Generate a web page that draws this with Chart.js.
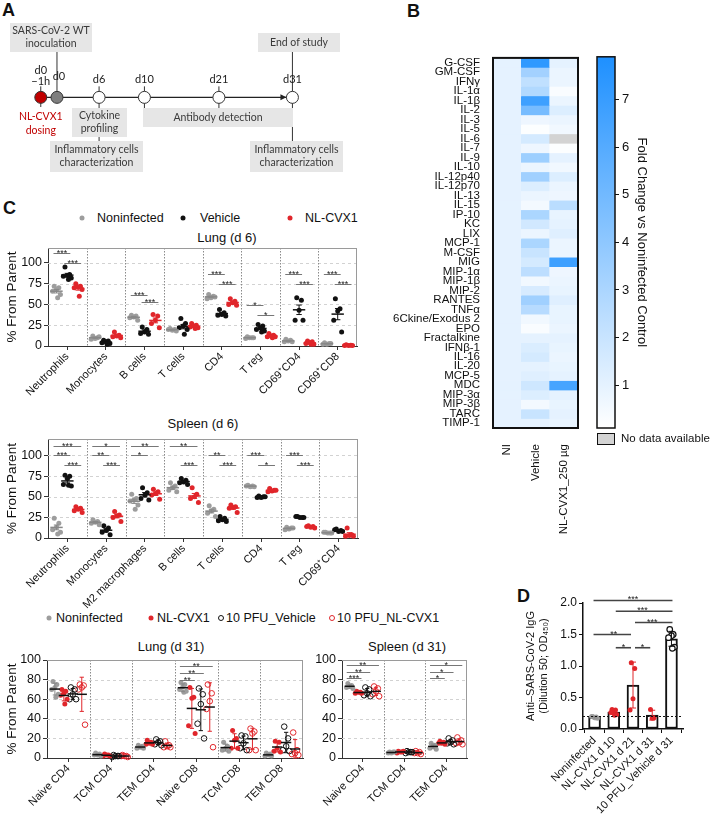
<!DOCTYPE html>
<html>
<head>
<meta charset="utf-8">
<script src="https://cdn.jsdelivr.net/npm/chart.js@4.4.1/dist/chart.umd.min.js"></script>
<style>
  body { margin:0; width:712px; height:814px; position:relative; overflow:hidden; background:#fff;
         font-family:"Liberation Sans", Arial, sans-serif; color:#111; }
  canvas { position:absolute; }
  .t { position:absolute; white-space:nowrap; font-size:13px; transform:translate(-50%,-50%); }
  .lg { position:absolute; white-space:nowrap; font-size:12.5px; transform:translateY(-50%); }
  .letter { position:absolute; font-weight:bold; font-size:18px; }
  .dot { position:absolute; width:5px; height:5px; border-radius:50%; transform:translate(-50%,-50%); box-sizing:border-box; }
</style>
</head>
<body>
<div class="letter" style="left:2px;top:0px">A</div>
<div class="letter" style="left:407px;top:1px">B</div>
<div class="letter" style="left:3px;top:198px">C</div>
<div class="letter" style="left:517px;top:586px">D</div>
<div class="t" style="left:227px;top:237px">Lung (d 6)</div>
<div class="t" style="left:203px;top:423px">Spleen (d 6)</div>
<div class="t" style="left:171px;top:646px">Lung (d 31)</div>
<div class="t" style="left:407px;top:646px">Spleen (d 31)</div>
<script>
// ---------- data ----------
// A: study timeline (schematic positions, not to scale)
const timelineLabels = [["d0", "\u22121h"], ["d0"], ["d6"], ["d10"], ["d21"], ["d31"]];
const timelinePos = [-0.5, 0, 1.3, 2.7, 5, 7.27];

// B: cytokine fold change vs noninfected control
const cytokines = ["G-CSF","GM-CSF","IFN\u03b3","IL-1\u03b1","IL-1\u03b2","IL-2","IL-3","IL-5","IL-6","IL-7","IL-9","IL-10",
  "IL-12p40","IL-12p70","IL-13","IL-15","IP-10","KC","LIX","MCP-1","M-CSF","MIG","MIP-1\u03b1","MIP-1\u03b2","MIP-2",
  "RANTES","TNF\u03b1","6Ckine/Exodus 2","EPO","Fractalkine","IFN\u03b2-1","IL-16","IL-20","MCP-5","MDC","MIP-3\u03b1",
  "MIP-3\u03b2","TARC","TIMP-1"];
const heatCols = ["NI", "Vehicle", "NL-CVX1_250 \u00b5g"];
const foldNI = cytokines.map(() => 1);
const foldVehicle = [7.3,3.3,2.3,2.8,6.8,4.8,0.7,0.2,1.6,0.7,3.5,0.8,3.4,1.3,0.8,0.5,3.0,1.7,0.8,3.0,2.0,1.6,2.4,0.6,1.5,
  3.4,2.6,0.6,0.3,1.0,1.4,1.6,1.0,1.2,1.8,1.3,0.5,2.0,1.0];
const foldNL = [1.0,0.8,0.8,0.3,0.8,1.3,0.8,0.6,null,0.2,1.0,0.6,1.3,0.8,0.7,2.5,0.9,1.0,1.2,0.8,0.8,6.8,0.7,0.8,0.9,
  1.2,0.9,0.9,0.8,1.0,0.9,0.8,0.9,1.0,6.5,1.0,0.9,1.0,0.9];
const cbMin = 0.1, cbMax = 7.9;
const cbTicks = [1, 2, 3, 4, 5, 6, 7];

// C: flow cytometry, % from parent
const d6Groups = ["Noninfected", "Vehicle", "NL-CVX1"];
const lungD6Cats = ["Neutrophils","Monocytes","B cells","T cells","CD4","T reg","CD69\u207aCD4","CD69\u207aCD8"];
const lungD6Noninf = [[72,70,68,66,62,58],[12,10,9,8,11],[37,36,35,34,31],[21,20,19,20,18],[62,60,58,57,59],[11,10,10,9,10],[8,7,6,5,5],[4,3,2,2,3]];
const lungD6Vehicle = [[95,86,85,84,82,80],[7,6,5,4,3,2],[23,20,17,15,14],[33,27,24,22,20,14],[44,40,38,37,36],[26,24,22,20,18,17],[58,55,43,31,31],[57,45,42,31,17]];
const lungD6NL = [[75,72,71,70,68,60],[17,13,12,11,10],[38,36,31,27,22],[27,25,24,23,22,21],[57,54,52,50,49],[15,13,12,11,11,10],[6,5,4,3,2,2],[1.5,1,0.5,0.5,0.5]];
const lungD6Sig = [[0,0,1,112,"***"],[0,1,2,100,"***"],[2,0,1,62,"***"],[2,1,2,53,"***"],[4,0,1,87,"***"],[4,1,2,75,"***"],
  [5,0,1,49,"*"],[5,1,2,37,"*"],[6,0,1,87,"***"],[6,1,2,75,"***"],[7,0,1,87,"***"],[7,1,2,75,"***"]];

const spleenD6Cats = ["Neutrophils","Monocytes","M2 macrophages","B cells","T cells","CD4","T reg","CD69\u207aCD4"];
const spleenD6Noninf = [[24,18,13,10,7,5],[22,20,19,18,16],[53,48,46,45,40,35],[67,63,61,58,56],[39,35,33,30,26],[64,63,62,63,62],[13,12,11,10,12],[7,6,6,7,6]];
const spleenD6Vehicle = [[76,75,72,65,63,64],[15,12,9,7,4],[61,55,52,48,46],[72,70,68,67,65],[26,24,22,21,20],[51,50,49,49,50],[26,25,25,26,25],[11,9,8,10,8]];
const spleenD6NL = [[38,36,35,33,31],[32,28,27,25,20],[59,56,54,52,47],[61,53,50,48,43],[40,38,37,36,31],[60,58,57,56,58],[15,14,13,14,12],[12,4,3,2,2]];
const spleenD6Sig = [[0,0,2,111,"***"],[0,0,1,101,"***"],[0,1,2,89,"***"],[1,0,2,111,"*"],[1,0,1,101,"**"],[1,1,2,89,"***"],
  [2,0,2,111,"**"],[2,0,1,101,"*"],[3,0,2,111,"**"],[3,1,2,89,"***"],[4,0,1,101,"**"],[4,1,2,89,"***"],
  [5,0,1,101,"***"],[5,1,2,89,"*"],[6,0,1,101,"***"],[6,1,2,89,"***"]];

const d31Groups = ["Noninfected", "NL-CVX1", "10 PFU_Vehicle", "10 PFU_NL-CVX1"];
const lungD31Cats = ["Naive CD4","TCM CD4","TEM CD4","Naive CD8","TCM CD8","TEM CD8"];
const lungD31Noninf = [[78,75,72,70,65,62],[5,4,3,3,2],[13,12,11,10,10],[77,75,73,70,68,67],[16,12,10,8,7],[5,4,3,2,2]];
const lungD31NL = [[70,68,66,64,60,55],[4,3,3,2,2],[18,16,15,14,14],[72,62,61,33,25],[28,20,18,10,10],[17,16,10,7,6]];
const lungD31PfuVeh = [[72,70,65,60,60],[3,2,2,1,2],[19,17,16,14,13],[71,65,55,35,20],[23,22,15,10,8],[32,20,12,8,7]];
const lungD31PfuNL = [[75,74,72,70,34],[3,2,2,2,1],[17,13,12,11,11],[75,66,58,50,11],[30,27,25,8,8],[26,8,5,4,3]];
const lungD31Sig = [[3,0,3,94,"**"],[3,0,2,87,"**"],[3,0,1,80,"**"]];

const spleenD31Cats = ["Naive CD4","TCM CD4","TEM CD4"];
const spleenD31Noninf = [[76,74,73,72,71],[6,6,5,5,6],[15,13,12,10,9]];
const spleenD31NL = [[68,67,67,66,66],[7,6,6,5,7],[17,16,15,15,14]];
const spleenD31PfuVeh = [[72,70,66,64,63],[7,6,6,5,6],[20,18,16,15,14]];
const spleenD31PfuNL = [[73,71,68,65,63],[7,6,5,5,4],[21,18,16,15,14]];
const spleenD31Sig = [[0,0,3,95,"**"],[0,0,2,88,"**"],[0,0,1,82,"***"],[2,0,3,95,"*"],[2,0,2,88,"*"],[2,0,1,82,"*"]];

// D: anti-SARS-CoV-2 IgG
const dLabels = ["Noninfected","NL-CVX1 d 10","NL-CVX1 d 21","NL-CVX1 d 31","10 PFU_Vehicle d 31"];
const dPoints = [[0.2,0.19,0.18,0.2,0.17,0.18],[0.31,0.3,0.29,0.26,0.23,0.22],[1.05,0.96,0.48,0.3],[0.31,0.18,0.17],[1.58,1.5,1.48,1.45,1.3,1.28]];
const dThreshold = 0.2;
const dSig = [[0,4,2.04,"***"],[1,4,1.87,"***"],[2,4,1.69,"***"],[0,2,1.5,"**"],[1,2,1.29,"*"],[2,3,1.29,"*"]];

// ---------- helpers ----------
const GRAY = "#9d9d9d", BLACK = "#111111", RED = "#e0262b";
Chart.defaults.font.family = '"Liberation Sans", Arial, sans-serif';
Chart.defaults.color = "#111";
Chart.defaults.animation = false;
Chart.defaults.plugins.legend.display = false;
Chart.defaults.plugins.tooltip.enabled = false;

function mean(a) { return a.reduce((s, v) => s + v, 0) / a.length; }
function sd(a) { const m = mean(a); return Math.sqrt(a.reduce((s, v) => s + (v - m) * (v - m), 0) / (a.length - 1)); }
const jitPattern = [-1, 1, 0, -1.7, 1.7, 0.5, -0.5];

function makeCanvas(left, top, w, h) {
  const c = document.createElement("canvas");
  c.width = w; c.height = h;
  c.style.left = left + "px"; c.style.top = top + "px";
  c.style.width = w + "px"; c.style.height = h + "px";
  document.body.appendChild(c);
  return c.getContext("2d");
}

function hasFont(f) {
  const c = document.createElement("canvas").getContext("2d");
  c.font = "20px monospace";
  const w1 = c.measureText("abcdefgWMil").width;
  c.font = '20px "' + f + '", monospace';
  return c.measureText("abcdefgWMil").width !== w1;
}
const narrowOK = hasFont("Liberation Sans Narrow");
const schemFont = narrowOK ? '12.5px "Liberation Sans Narrow"' : '10.5px Lato';
const dayFont = narrowOK ? '12px "Liberation Sans Narrow"' : '11px Lato';

function addLegend(names, styles, y, dotX, textX) {
  names.forEach((n, i) => {
    const d = document.createElement("div");
    d.className = "dot";
    d.style.left = dotX[i] + "px"; d.style.top = y + "px";
    if (styles[i].open) { d.style.border = "1px solid " + styles[i].color; d.style.width = "6px"; d.style.height = "6px"; }
    else d.style.background = styles[i].color;
    document.body.appendChild(d);
    const t = document.createElement("div");
    t.className = "lg"; t.textContent = n;
    t.style.left = textX[i] + "px"; t.style.top = y + "px";
    document.body.appendChild(t);
  });
}

// ---------- A: timeline ----------
const aDecor = {
  id: "aDecor",
  beforeDatasetsDraw(chart) {
    const { ctx, scales: { x, y } } = chart;
    const px = timelinePos.map(v => x.getPixelForValue(v));
    const py = y.getPixelForValue(0);
    const line = (a, b, c, d) => { ctx.beginPath(); ctx.moveTo(a, b); ctx.lineTo(c, d); ctx.stroke(); };
    ctx.save();
    ctx.strokeStyle = "#333"; ctx.lineWidth = 1;
    // connectors
    line(px[1], 52, px[1], py); line(px[5], 52, px[5], py);
    [0, 2, 3, 4].forEach(i => line(px[i], py - 11, px[i], py));
    line(px[0], py, px[0], 107);
    line(px[2], py, px[2], 141); line(px[3], py, px[3], 108); line(px[4], py, px[4], 108);
    line(px[5], py, px[5], 141);
    // boxes
    const boxes = [
      [10, 23, 92, 52, ["SARS-CoV-2 WT", "inoculation"]],
      [258, 33, 340, 52, ["End of study"]],
      [72, 108, 127, 137, ["Cytokine", "profiling"]],
      [143, 108, 293, 127, ["Antibody detection"]],
      [50, 141, 143, 172, ["Inflammatory cells", "characterization"]],
      [250, 141, 343, 172, ["Inflammatory cells", "characterization"]]
    ];
    ctx.font = schemFont; ctx.textAlign = "center"; ctx.textBaseline = "middle";
    boxes.forEach(([x1, y1, x2, y2, lines]) => {
      ctx.fillStyle = "#e6e6e6"; ctx.fillRect(x1, y1, x2 - x1, y2 - y1);
      ctx.fillStyle = "#3a3a3a";
      const cy = (y1 + y2) / 2, lh = 13;
      lines.forEach((s, k) => ctx.fillText(s, (x1 + x2) / 2, cy + (k - (lines.length - 1) / 2) * lh));
    });
    ctx.fillStyle = "#c00000";
    ctx.fillText("NL-CVX1", px[0], 117); ctx.fillText("dosing", px[0], 131);
    // day labels
    ctx.fillStyle = "#222"; ctx.font = dayFont;
    timelineLabels.forEach((lab, i) => {
      if (lab.length === 2) { ctx.fillText(lab[0], px[i], 70); ctx.fillText(lab[1], px[i], 81); }
      else ctx.fillText(lab[0], px[i] + (i === 1 ? 2 : 0), i === 1 ? 76 : 79);
    });
    ctx.restore();
  },
  afterDatasetsDraw(chart) {
    const { ctx, scales: { x, y } } = chart;
    const tip = x.getPixelForValue(timelinePos[5]) - 6, py = y.getPixelForValue(0);
    ctx.save(); ctx.fillStyle = "#222";
    ctx.beginPath(); ctx.moveTo(tip, py); ctx.lineTo(tip - 6, py - 3); ctx.lineTo(tip - 6, py + 3); ctx.closePath(); ctx.fill();
    ctx.restore();
  }
};
new Chart(makeCanvas(0, 0, 360, 180), {
  type: "scatter",
  data: { datasets: [{
    data: timelinePos.map(v => ({ x: v, y: 0 })),
    showLine: true, borderColor: "#222", borderWidth: 1.2, clip: false,
    pointRadius: 6, pointBorderColor: "#333", pointBorderWidth: 1,
    pointBackgroundColor: timelinePos.map((v, i) => i === 0 ? "#c00000" : i === 1 ? "#7f7f7f" : "#fff")
  }] },
  options: {
    responsive: false, layout: { padding: 0 },
    scales: { x: { display: false, min: -1.543, max: 9.14 }, y: { display: false, min: -1, max: 1.195 } }
  },
  plugins: [aDecor]
});

// ---------- B: heatmap ----------
function heatColor(v) {
  if (v === null) return "#d3d3d3";
  const t = Math.max(0, Math.min(1, (v - cbMin) / (cbMax - cbMin)));
  return `rgb(${Math.round(255 - 225 * t)},${Math.round(255 - 111 * t)},255)`;
}
const heatVals = [foldNI, foldVehicle, foldNL];
const frame = color => ({
  id: "frame",
  afterDatasetsDraw(chart) {
    const { ctx, chartArea: a } = chart;
    ctx.save(); ctx.strokeStyle = color; ctx.lineWidth = 2;
    ctx.strokeRect(a.left, a.top, a.right - a.left, a.bottom - a.top); ctx.restore();
  }
});
new Chart(makeCanvas(380, 46, 210, 500), {
  type: "bar",
  data: {
    labels: heatCols,
    datasets: cytokines.map((c, r) => ({
      label: c, data: heatCols.map(() => 1),
      backgroundColor: heatCols.map((h, ci) => heatColor(heatVals[ci][r])),
      borderWidth: 0, barPercentage: 1, categoryPercentage: 1, stack: "s"
    }))
  },
  options: {
    responsive: false, layout: { padding: { top: 10, right: 12, left: 0, bottom: 0 } },
    scales: {
      x: { stacked: true, grid: { display: false }, border: { display: false },
           afterFit: s => { s.height = 118; },
           ticks: { maxRotation: 90, minRotation: 90, padding: 8, font: { size: 11.5 } } },
      y: { stacked: true, min: 0, max: cytokines.length, reverse: true,
           grid: { display: false }, border: { display: false },
           afterFit: s => { s.width = 113; },
           afterBuildTicks: s => { s.ticks = cytokines.map((c, i) => ({ value: i + 0.5 })); },
           ticks: { autoSkip: false, padding: 5, font: { size: 11.5 }, callback: (v, i) => cytokines[i] } }
    }
  },
  plugins: [frame("#111")]
});

// colour bar
const cbDecor = {
  id: "cbDecor",
  afterDraw(chart) {
    const { ctx, chartArea: a } = chart;
    ctx.save(); ctx.strokeStyle = "#111"; ctx.lineWidth = 1.5;
    ctx.strokeRect(a.left, a.top, a.right - a.left, a.bottom - a.top);
    ctx.fillStyle = "#d3d3d3"; ctx.fillRect(a.left, a.bottom + 5, a.right - a.left, 12);
    ctx.lineWidth = 1; ctx.strokeRect(a.left + 0.5, a.bottom + 5.5, a.right - a.left - 1, 11);
    ctx.fillStyle = "#111"; ctx.font = '11.5px "Liberation Sans", Arial'; ctx.textBaseline = "middle";
    ctx.fillText("No data available", a.right + 6, a.bottom + 11);
    ctx.restore();
  }
};
new Chart(makeCanvas(590, 46, 122, 500), {
  type: "bar",
  data: { labels: [""], datasets: [{
    data: [[cbMin, cbMax]], barPercentage: 1, categoryPercentage: 1, borderWidth: 0,
    backgroundColor: c => {
      const a = c.chart.chartArea; if (!a) return "#fff";
      const g = c.chart.ctx.createLinearGradient(0, a.bottom, 0, a.top);
      g.addColorStop(0, heatColor(cbMin)); g.addColorStop(1, heatColor(cbMax)); return g;
    }
  }] },
  options: {
    responsive: false, layout: { padding: { top: 10, left: 7, right: 61, bottom: 118 } },
    scales: {
      x: { display: false },
      y: { position: "right", min: cbMin, max: cbMax,
           afterFit: s => { s.width = 36; },
           afterBuildTicks: s => { s.ticks = cbTicks.map(v => ({ value: v })); },
           grid: { drawOnChartArea: false, tickLength: 4, color: "#111" }, border: { display: false },
           ticks: { font: { size: 13 }, padding: 3 },
           title: { display: true, text: "Fold Change vs Noninfected Control", font: { size: 13 }, padding: { top: 2, bottom: 0 } } }
    }
  },
  plugins: [cbDecor]
});

// ---------- C: dot plots ----------
function dotDecor(spec) {
  return {
    id: "dotDecor",
    beforeDatasetsDraw(chart) {
      const { ctx, chartArea: a, scales: { x, y } } = chart;
      const line = (p, q, r, s) => { ctx.beginPath(); ctx.moveTo(p, q); ctx.lineTo(r, s); ctx.stroke(); };
      ctx.save(); ctx.lineWidth = 1;
      ctx.strokeStyle = "#d2d2d2"; ctx.setLineDash([3, 3]);
      spec.yTicks.forEach(v => {
        if (v <= 0) return;
        const py = Math.round(y.getPixelForValue(v)) + 0.5;
        line(a.left, py, a.right, py);
      });
      ctx.strokeStyle = "#8a8a8a"; ctx.setLineDash([1.5, 1.5]);
      for (let i = 0; i < spec.cats.length - 1; i++) {
        const px = Math.round(x.getPixelForValue(i + 0.5)) + 0.5;
        line(px, a.top, px, a.bottom);
      }
      ctx.setLineDash([]); ctx.strokeStyle = "#9a9a9a";
      line(a.left, a.top + 0.5, a.right - 0.5, a.top + 0.5);
      line(a.right - 0.5, a.top, a.right - 0.5, a.bottom);
      ctx.restore();
    },
    afterDatasetsDraw(chart) {
      const { ctx, scales: { x, y } } = chart;
      const line = (p, q, r, s) => { ctx.beginPath(); ctx.moveTo(p, q); ctx.lineTo(r, s); ctx.stroke(); };
      const unit = x.getPixelForValue(1) - x.getPixelForValue(0);
      ctx.save();
      spec.groups.forEach((g, gi) => g.vals.forEach((arr, ci) => {
        const m = mean(arr);
        const e = spec.err === "sd" ? sd(arr) : sd(arr) / Math.sqrt(arr.length);
        const cx = x.getPixelForValue(ci + spec.offsets[gi]);
        const hw = spec.meanW * unit, cw = spec.capW * unit;
        const yt = y.getPixelForValue(m + e), yb = y.getPixelForValue(Math.max(0, m - e)), ym = y.getPixelForValue(m);
        ctx.strokeStyle = g.bar; ctx.lineWidth = 1;
        line(cx, yt, cx, yb); line(cx - cw, yt, cx + cw, yt); line(cx - cw, yb, cx + cw, yb);
        ctx.strokeStyle = spec.meanColor || g.bar; ctx.lineWidth = 1.5;
        line(cx - hw, ym, cx + hw, ym);
      }));
      ctx.font = '9px "Liberation Sans", Arial'; ctx.textAlign = "center";
      spec.sigs.forEach(([ci, ga, gb, v, lab]) => {
        const x1 = x.getPixelForValue(ci + spec.offsets[ga]) - 3, x2 = x.getPixelForValue(ci + spec.offsets[gb]) + 3;
        const py = Math.round(y.getPixelForValue(v)) + 0.5;
        ctx.strokeStyle = "#777"; ctx.lineWidth = 1; line(x1, py, x2, py);
        ctx.fillStyle = "#222"; ctx.fillText(lab, (x1 + x2) / 2, py + 2);
      });
      ctx.restore();
    }
  };
}

function dotPlot(box, spec) {
  const n = spec.cats.length;
  const datasets = spec.groups.map((g, gi) => ({
    data: g.vals.flatMap((arr, ci) => arr.map((v, j) => ({ x: ci + spec.offsets[gi] + jitPattern[j % jitPattern.length] * spec.jit, y: v }))),
    pointRadius: g.open ? 2.8 : 2.5,
    pointBackgroundColor: g.open ? "rgba(255,255,255,0)" : g.color,
    pointBorderColor: g.color, pointBorderWidth: g.open ? 1 : 0, clip: false
  }));
  new Chart(makeCanvas(box.left, box.top, box.w, box.h), {
    type: "scatter",
    data: { datasets },
    options: {
      responsive: false,
      layout: { padding: { top: box.padT, right: box.padR, left: box.padL, bottom: 0 } },
      scales: {
        x: { type: "linear", min: -0.5, max: n - 0.5,
             afterBuildTicks: s => { s.ticks = spec.cats.map((c, i) => ({ value: i })); },
             afterFit: s => { s.height = box.xH; },
             ticks: { autoSkip: false, maxRotation: 45, minRotation: 45, padding: 0, font: { size: 11 }, callback: (v, i) => spec.cats[i] },
             grid: { drawOnChartArea: false, tickLength: 4, color: "#333" }, border: { color: "#333" } },
        y: { min: 0, max: spec.yMax,
             afterBuildTicks: s => { s.ticks = spec.yTicks.map(v => ({ value: v })); },
             afterFit: s => { s.width = box.yW; },
             ticks: { font: { size: 12.5 }, padding: 2 },
             grid: { drawOnChartArea: false, tickLength: 4, color: "#333" }, border: { color: "#333" },
             title: { display: !!spec.yTitle, text: spec.yTitle, font: { size: 13.5 }, padding: 0 } }
      }
    },
    plugins: [dotDecor(spec)]
  });
}

const d6Styles = [{ color: GRAY, bar: "#888" }, { color: BLACK, bar: BLACK }, { color: RED, bar: RED }];
const d31Styles = [{ color: GRAY, bar: "#888" }, { color: RED, bar: RED }, { color: BLACK, bar: BLACK, open: true }, { color: RED, bar: RED, open: true }];
const withVals = (styles, vals) => styles.map((s, i) => Object.assign({ vals: vals[i] }, s));

addLegend(d6Groups, d6Styles, 218, [82, 183, 290], [97, 200, 305]);
addLegend(d31Groups, d31Styles, 618, [49, 151, 221, 332], [56, 157, 226, 337]);

dotPlot({ left: 0, top: 228, w: 372, h: 175, padT: 20, padR: 15, padL: 4, yW: 44, xH: 57 }, {
  cats: lungD6Cats, groups: withVals(d6Styles, [lungD6Noninf, lungD6Vehicle, lungD6NL]),
  offsets: [-0.28, 0, 0.28], jit: 0.06, yMax: 118, yTicks: [0, 25, 50, 75, 100], yTitle: "% From Parent",
  err: "sem", meanW: 0.16, capW: 0.07, sigs: lungD6Sig
});
dotPlot({ left: 0, top: 429, w: 372, h: 181, padT: 10, padR: 14, padL: 4, yW: 44, xH: 72 }, {
  cats: spleenD6Cats, groups: withVals(d6Styles, [spleenD6Noninf, spleenD6Vehicle, spleenD6NL]),
  offsets: [-0.28, 0, 0.28], jit: 0.06, yMax: 120, yTicks: [0, 25, 50, 75, 100], yTitle: "% From Parent",
  err: "sem", meanW: 0.16, capW: 0.07, sigs: spleenD6Sig
});
dotPlot({ left: 0, top: 650, w: 312, h: 164, padT: 10, padR: 9, padL: 4, yW: 43, xH: 56 }, {
  cats: lungD31Cats, groups: withVals(d31Styles, [lungD31Noninf, lungD31NL, lungD31PfuVeh, lungD31PfuNL]),
  offsets: [-0.315, -0.105, 0.105, 0.315], jit: 0.045, yMax: 100, yTicks: [0, 20, 40, 60, 80, 100], yTitle: "% From Parent",
  err: "sd", meanW: 0.12, capW: 0.05, meanColor: BLACK, sigs: lungD31Sig
});
dotPlot({ left: 300, top: 650, w: 176, h: 164, padT: 10, padR: 9, padL: 0, yW: 42, xH: 56 }, {
  cats: spleenD31Cats, groups: withVals(d31Styles, [spleenD31Noninf, spleenD31NL, spleenD31PfuVeh, spleenD31PfuNL]),
  offsets: [-0.315, -0.105, 0.105, 0.315], jit: 0.045, yMax: 100, yTicks: [0, 20, 40, 60, 80, 100], yTitle: "",
  err: "sd", meanW: 0.12, capW: 0.05, meanColor: BLACK, sigs: spleenD31Sig
});

// ---------- D: IgG bars ----------
const dStyles = [{ color: GRAY, bar: "#888" }, { color: RED, bar: RED }, { color: RED, bar: RED }, { color: RED, bar: RED }, { color: BLACK, bar: BLACK, open: true }];
const dDecor = {
  id: "dDecor",
  afterDatasetsDraw(chart) {
    const { ctx, chartArea: a, scales: { x, y } } = chart;
    const line = (p, q, r, s) => { ctx.beginPath(); ctx.moveTo(p, q); ctx.lineTo(r, s); ctx.stroke(); };
    ctx.save();
    dPoints.forEach((p, i) => {
      const m = mean(p), e = sd(p), cx = x.getPixelForValue(i);
      const yt = y.getPixelForValue(m + e), yb = y.getPixelForValue(Math.max(0, m - e));
      ctx.strokeStyle = dStyles[i].bar; ctx.lineWidth = 1;
      line(cx, yt, cx, yb); line(cx - 3, yt, cx + 3, yt); line(cx - 3, yb, cx + 3, yb);
    });
    ctx.strokeStyle = "#111"; ctx.setLineDash([2, 2]);
    const ty = Math.round(y.getPixelForValue(dThreshold)) + 0.5;
    line(a.left, ty, a.right, ty); ctx.setLineDash([]);
    ctx.font = '9px "Liberation Sans", Arial'; ctx.textAlign = "center";
    dSig.forEach(([ga, gb, v, lab]) => {
      const x1 = x.getPixelForValue(ga) - 1, x2 = x.getPixelForValue(gb) + 1;
      const py = y.getPixelForValue(v);
      ctx.strokeStyle = "#444"; ctx.lineWidth = 1.6; line(x1 + (ga ? 3 : 0), py, x2 - (gb === 4 ? 0 : 3), py);
      ctx.fillStyle = "#222"; ctx.fillText(lab, (x1 + x2) / 2, py + 2);
    });
    ctx.restore();
  }
};
new Chart(makeCanvas(520, 590, 192, 224), {
  type: "bar",
  data: { datasets: [
    { type: "bar", data: dPoints.map((p, i) => ({ x: i, y: mean(p) })), backgroundColor: "#fff",
      borderColor: "#111", borderWidth: 2, borderSkipped: false, barThickness: 12, order: 2 },
    ...dPoints.map((p, i) => ({
      type: "scatter", order: 1, clip: false,
      data: p.map((v, j) => ({ x: i + jitPattern[j % jitPattern.length] * 0.09, y: v })),
      pointRadius: dStyles[i].open ? 2.8 : 2.5,
      pointBackgroundColor: dStyles[i].open ? "#fff" : dStyles[i].color,
      pointBorderColor: dStyles[i].color, pointBorderWidth: dStyles[i].open ? 1.2 : 0
    }))
  ] },
  options: {
    responsive: false,
    layout: { padding: { top: 13, right: 29, left: 4, bottom: 0 } },
    scales: {
      x: { type: "linear", min: -0.6, max: 4.6, offset: false,
           afterBuildTicks: s => { s.ticks = dLabels.map((c, i) => ({ value: i })); },
           afterFit: s => { s.height = 85; },
           ticks: { autoSkip: false, maxRotation: 45, minRotation: 45, padding: 1, font: { size: 11 }, callback: (v, i) => dLabels[i] },
           grid: { drawOnChartArea: false, tickLength: 4, color: "#111" }, border: { color: "#111", width: 1.5 } },
      y: { min: 0, max: 2,
           afterBuildTicks: s => { s.ticks = [0, 0.5, 1, 1.5, 2].map(v => ({ value: v })); },
           afterFit: s => { s.width = 59; },
           ticks: { font: { size: 12 }, padding: 2, callback: v => v.toFixed(1) },
           grid: { drawOnChartArea: false, tickLength: 4, color: "#111" }, border: { color: "#111", width: 1.5 },
           title: { display: true, text: ["Anti\u2013SARS-CoV-2 IgG", "(Dilution 50; OD\u2084\u2085\u2080)"], font: { size: 11 }, padding: 0 } }
    }
  },
  plugins: [dDecor]
});
</script>
</body>
</html>
